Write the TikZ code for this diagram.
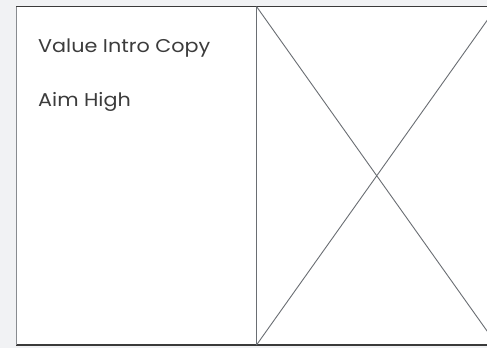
\documentclass[tikz,border=0pt]{standalone}
\usepackage{fontspec}
\setmainfont{Poppins}[FakeStretch=1.12]
\usepackage{tikz}
\usetikzlibrary{positioning}
\definecolor{Page}{HTML}{F1F2F4}
\definecolor{Frame}{HTML}{3A3A3A}
\definecolor{Wire}{HTML}{6A6E73}
\definecolor{Ink}{HTML}{3C3C3C}
\tikzset{copytext/.style={anchor=base west,inner sep=0pt,text=Ink,font=\fontsize{18.5}{22}\selectfont}}
\begin{document}
\begin{tikzpicture}[x=1pt,y=-1pt]
        \useasboundingbox (0,0) rectangle (487,348);
        \clip (0,0) rectangle (487,348);
        \fill[Page] (0,0) rectangle (487,348);
        \draw[fill=white,draw=Frame,line width=1.2pt] (16.5,6.5) rectangle (497,345);
        \draw[Wire!80,line width=1.4pt] (16.5,6.5) -- (16.5,345);
        % image placeholder
        \draw[Wire,line width=1.3pt] (256.5,6.5) -- (256.5,345);
        \draw[Wire,line width=0.9pt] (256.5,6.5) -- (497,345) (256.5,345) -- (497,6.5);
        \node[copytext] (intro) at (38,52.5) {Value Intro Copy};
        \node[copytext] (aim) at (38,106) {Aim High};
      \end{tikzpicture}
\end{document}
